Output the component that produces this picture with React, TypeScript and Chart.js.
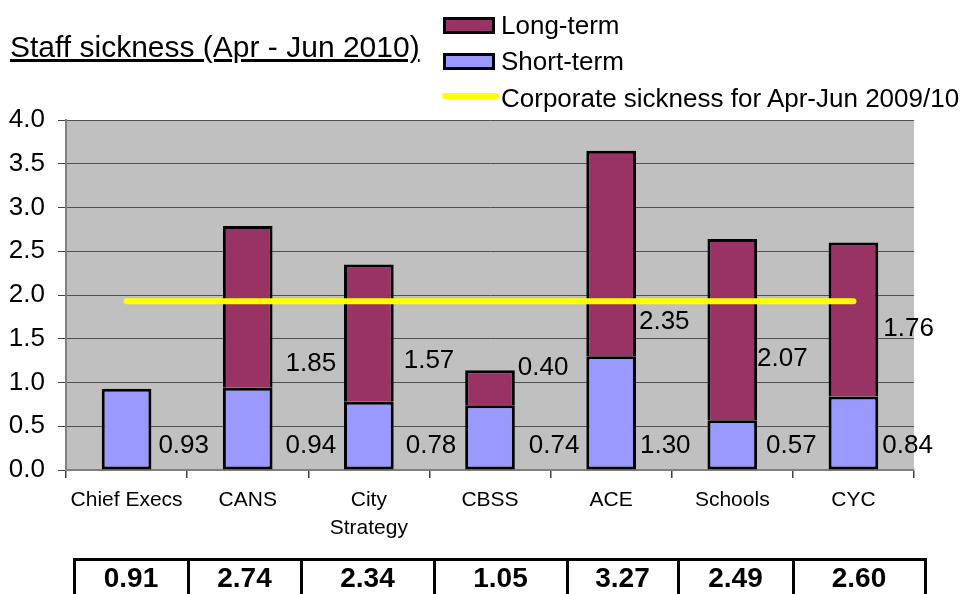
import React, { useEffect, useRef } from 'react';
import { Chart, registerables } from 'chart.js';

Chart.register(...registerables);

// ---- data ----
const categories: (string | string[])[] = ['Chief Execs', 'CANS', ['City', 'Strategy'], 'CBSS', 'ACE', 'Schools', 'CYC'];
const shortTerm = [0.93, 0.94, 0.78, 0.74, 1.30, 0.57, 0.84];
const longTerm: (number | null)[] = [null, 1.85, 1.57, 0.40, 2.35, 2.07, 1.76];
const corporate = [1.93, 1.93, 1.93, 1.93, 1.93, 1.93, 1.93];
const totals = ['0.91', '2.74', '2.34', '1.05', '3.27', '2.49', '2.60'];
const yMin = 0;
const yMax = 4;
const yStep = 0.5;

// ---- label placement (layout, not data) ----
const shortLabelAt = 0.29; // value level of short-term labels
const longLabelAt: (number | null)[] = [null, 1.23, 1.26, 1.18, 1.71, 1.28, 1.63];
const shortLabelGap = [7, 13, 12, 14, 4, 9, 4];
const longLabelGap: (number | null)[] = [null, 13, 10, 3, 3, 0, 5];
const tableEdges = [74, 188, 301, 434, 567, 678, 793, 925];

const FONT = '"Liberation Sans", Arial, sans-serif';
const PURPLE = '#993366';
const BLUE = '#9999FF';
const PLOT_BG = '#C0C0C0';

const plotBg = {
  id: 'plotBg',
  beforeDraw(chart: any) {
    const { ctx, chartArea: a } = chart;
    ctx.save();
    ctx.fillStyle = PLOT_BG;
    ctx.fillRect(a.left, a.top, a.right - a.left, a.bottom - a.top);
    ctx.restore();
  },
};

const valueLabels = {
  id: 'valueLabels',
  afterDraw(chart: any) {
    const ctx = chart.ctx;
    const y = chart.scales.y;
    const m0 = chart.getDatasetMeta(0);
    ctx.save();
    ctx.font = `26px ${FONT}`;
    ctx.fillStyle = '#000';
    ctx.textBaseline = 'middle';
    ctx.textAlign = 'left';
    shortTerm.forEach((v, i) => {
      const el: any = m0.data[i];
      const right = el.x + el.width / 2;
      ctx.fillText(v.toFixed(2), right + shortLabelGap[i], y.getPixelForValue(shortLabelAt) + 1);
    });
    longTerm.forEach((v, i) => {
      const at = longLabelAt[i];
      const gap = longLabelGap[i];
      if (v == null || at == null || gap == null) return;
      const el: any = m0.data[i];
      const right = el.x + el.width / 2;
      ctx.fillText(v.toFixed(2), right + gap, y.getPixelForValue(at) + 1);
    });
    ctx.restore();
  },
};

export default function App() {
  const ref = useRef<HTMLCanvasElement>(null);

  useEffect(() => {
    if (!ref.current) return;
    const chart = new Chart(ref.current, {
      type: 'bar',
      data: {
        labels: categories as any,
        datasets: [
          {
            type: 'bar',
            label: 'Short-term',
            data: shortTerm,
            backgroundColor: BLUE,
            borderColor: '#000',
            borderWidth: 3,
            borderSkipped: false,
            barPercentage: 0.41,
            categoryPercentage: 1,
            order: 1,
          } as any,
          {
            type: 'bar',
            label: 'Long-term',
            data: longTerm,
            backgroundColor: PURPLE,
            borderColor: '#000',
            borderWidth: 3,
            borderSkipped: 'bottom',
            barPercentage: 0.41,
            categoryPercentage: 1,
            order: 1,
          } as any,
          {
            type: 'line',
            label: 'Corporate sickness for Apr-Jun 2009/10',
            data: corporate,
            borderColor: '#FFFF00',
            borderWidth: 6,
            borderCapStyle: 'round',
            pointRadius: 0,
            fill: false,
            stack: 'corp',
            order: 0,
          } as any,
        ],
      },
      options: {
        responsive: false,
        maintainAspectRatio: false,
        animation: false,
        layout: { padding: { top: 120, right: 61, left: 0, bottom: 0 } },
        plugins: {
          legend: { display: false },
          tooltip: { enabled: false },
          title: { display: false },
        },
        scales: {
          x: {
            type: 'category',
            stacked: true,
            offset: true,
            grid: {
              offset: true,
              drawOnChartArea: false,
              drawTicks: true,
              tickLength: 8,
              tickColor: '#404040',
              lineWidth: 1.5,
            },
            border: { display: true, color: '#808080', width: 2 },
            ticks: {
              color: '#000',
              font: { family: FONT, size: 21, lineHeight: 1.35 },
              padding: 8,
              maxRotation: 0,
              autoSkip: false,
            },
            afterFit(scale: any) {
              scale.height = 124;
            },
          },
          y: {
            stacked: true,
            min: yMin,
            max: yMax,
            ticks: {
              stepSize: yStep,
              color: '#000',
              font: { family: FONT, size: 26 },
              padding: 13,
              callback: (v: any) => Number(v).toFixed(1),
            },
            grid: {
              color: '#505050',
              lineWidth: 1,
              tickLength: 8,
              tickColor: '#404040',
            },
            border: { display: true, color: '#808080', width: 2 },
            afterFit(scale: any) {
              scale.width = 66;
            },
          },
        },
      } as any,
      plugins: [plotBg, valueLabels],
    });
    return () => chart.destroy();
  }, []);

  const legendText: React.CSSProperties = {
    position: 'absolute',
    left: 501,
    fontSize: 26,
    lineHeight: '26px',
    whiteSpace: 'nowrap',
    color: '#000',
  };
  const legendBox: React.CSSProperties = {
    position: 'absolute',
    left: 443,
    width: 52,
    height: 17,
    boxSizing: 'border-box',
    border: '3px solid #000',
  };

  return (
    <div
      style={{
        position: 'absolute',
        left: 0,
        top: 0,
        width: 975,
        height: 594,
        overflow: 'hidden',
        background: '#fff',
        fontFamily: FONT,
      }}
    >
      <canvas ref={ref} width={975} height={594} style={{ position: 'absolute', left: 0, top: 0 }} />

      <div
        style={{
          position: 'absolute',
          left: 10,
          top: 32,
          fontSize: 30,
          lineHeight: '30px',
          textDecoration: 'underline',
          textDecorationThickness: 3,
          whiteSpace: 'nowrap',
          color: '#000',
        }}
      >
        Staff sickness (Apr - Jun 2010)
      </div>

      <div style={{ ...legendBox, top: 17, background: PURPLE }} />
      <div style={{ ...legendText, top: 12 }}>Long-term</div>
      <div style={{ ...legendBox, top: 53, background: BLUE }} />
      <div style={{ ...legendText, top: 48 }}>Short-term</div>
      <div
        style={{
          position: 'absolute',
          left: 442,
          top: 93,
          width: 57,
          height: 6,
          borderRadius: 3,
          background: '#FFFF00',
        }}
      />
      <div style={{ ...legendText, top: 85 }}>Corporate sickness for Apr-Jun 2009/10</div>

      <div
        style={{
          position: 'absolute',
          left: tableEdges[0] - 1,
          top: 558,
          width: tableEdges[tableEdges.length - 1] - tableEdges[0] + 3,
          height: 3,
          background: '#000',
        }}
      />
      {tableEdges.map((e, i) => (
        <div
          key={'l' + i}
          style={{ position: 'absolute', left: e - 1, top: 558, width: 3, height: 60, background: '#000' }}
        />
      ))}
      {totals.map((t, i) => (
        <div
          key={'t' + i}
          style={{
            position: 'absolute',
            left: tableEdges[i],
            width: tableEdges[i + 1] - tableEdges[i],
            top: 564,
            fontSize: 28,
            lineHeight: '28px',
            fontWeight: 'bold',
            textAlign: 'center',
            color: '#000',
          }}
        >
          {t}
        </div>
      ))}
    </div>
  );
}
